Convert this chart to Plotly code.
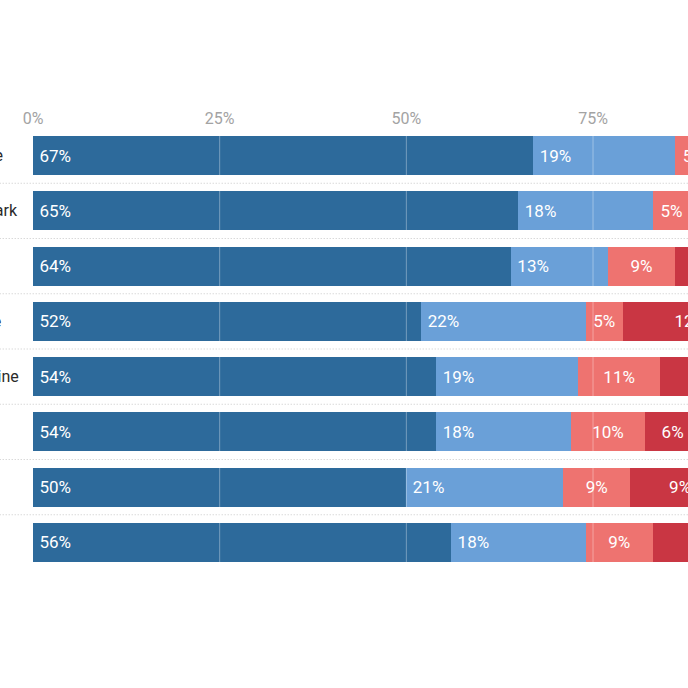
import plotly.graph_objects as go

# categories (top to bottom) and the four answer shares, in percent
countries = ['Greece', 'Denmark', 'Spain', 'France', 'Palestine', 'Italy', 'Israel', 'Malta']
strongly_agree = [67, 65, 64, 52, 54, 54, 50, 56]
agree = [19, 18, 13, 22, 19, 18, 21, 18]
disagree = [5, 5, 9, 5, 11, 10, 9, 9]
strongly_disagree = [6, 7, 10, 12, 12, 6, 9, 12]
tick_values = [0, 25, 50, 75]
tick_labels = ['0%', '25%', '50%', '75%']

colors = ['#2d6a9b', '#6aa0d8', '#ee7370', '#c93643']
anchors = ['start', 'start', 'middle', 'end']
templates = ['\u2009%{text}', '\u2009%{text}', '%{text}', '%{text}\u2009']
series = [strongly_agree, agree, disagree, strongly_disagree]
names = ['Strongly agree', 'Agree', 'Disagree', 'Strongly disagree']

fig = go.Figure()
for vals, col, anc, tpl, nm in zip(series, colors, anchors, templates, names):
    fig.add_trace(go.Bar(
        x=vals, y=countries, orientation='h', name=nm,
        marker=dict(color=col, line=dict(width=0)),
        text=[f'{v}%' for v in vals],
        texttemplate=tpl, textposition='inside', insidetextanchor=anc,
        textangle=0, constraintext='none',
        insidetextfont=dict(family='Roboto', size=17, color='white'),
        hoverinfo='skip',
    ))

shapes = []
# dotted separators between rows
for i in range(len(countries) - 1):
    shapes.append(dict(type='line', xref='paper', x0=-0.06, x1=1, yref='y',
                       y0=i + 0.5, y1=i + 0.5, layer='below',
                       line=dict(color='#c8c8c8', width=1, dash='1px,2px')))
# faint gridlines drawn over the bars
for t in tick_values[1:]:
    shapes.append(dict(type='line', xref='x', x0=t, x1=t, yref='paper', y0=0, y1=1,
                       layer='above', line=dict(color='rgba(255,255,255,0.35)', width=1)))

# left-aligned row labels, starting left of the visible page
annotations = [dict(text=c, xref='paper', x=-0.1252, xanchor='left', yref='y', y=c,
                    showarrow=False, font=dict(family='Roboto', size=16, color='#2a2a2a'))
               for c in countries]

fig.update_layout(
    width=688, height=688,
    margin=dict(l=33, r=0, t=128, b=118),
    barmode='stack', bargap=0.293, showlegend=False,
    plot_bgcolor='white', paper_bgcolor='white',
    font=dict(family='Roboto'),
    xaxis=dict(range=[0, 87.72], side='top', tickvals=tick_values, ticktext=tick_labels,
               showgrid=False, zeroline=False, showline=False, ticks='',
               tickfont=dict(size=16, color='#a3a3a3'), fixedrange=True),
    yaxis=dict(autorange='reversed', showticklabels=False, showgrid=False,
               zeroline=False, showline=False, ticks='', fixedrange=True),
    shapes=shapes, annotations=annotations,
)

fig.write_html("out.html", config={'displayModeBar': False},
               post_script="document.body.style.margin='0';")
